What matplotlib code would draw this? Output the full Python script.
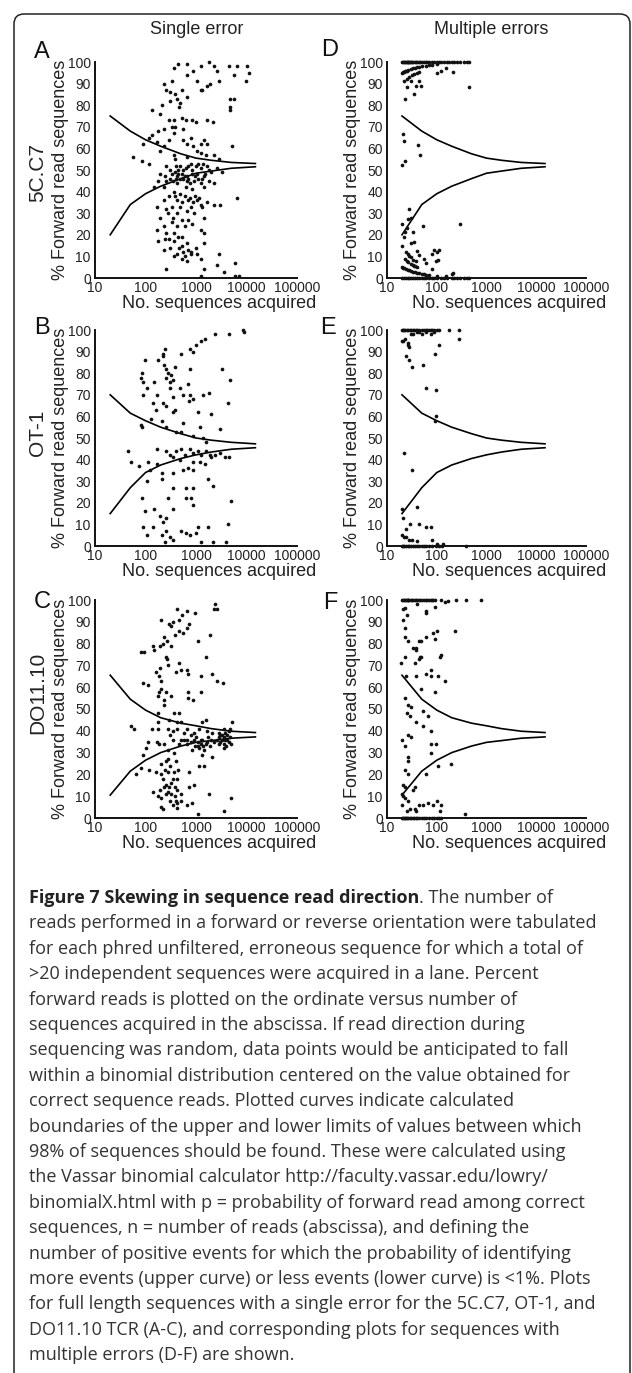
import numpy as np
import matplotlib
matplotlib.use("Agg")
import matplotlib.pyplot as plt
from matplotlib.patches import FancyBboxPatch
from matplotlib.transforms import IdentityTransform

# binomial limit curves (n reads -> % forward), one pair per TCR
curve_n = [20, 50, 100, 200, 500, 1000, 2000, 5000, 15000]
upper_5cc7 = [75, 68, 64, 61, 57.5, 55.5, 54.5, 53.5, 53]
lower_5cc7 = [20, 34, 39, 42.5, 46, 48.5, 49.5, 50.8, 51.5]
upper_ot1 = [70, 61.5, 58, 55, 52, 50, 49, 48, 47.3]
lower_ot1 = [15, 27, 34, 37.5, 40.5, 42.2, 43.5, 44.8, 45.5]
upper_do11 = [65.5, 54.5, 49.5, 46, 43.5, 42.3, 41, 39.8, 39.2]
lower_do11 = [10.5, 21.5, 26.5, 30, 33, 34.7, 35.5, 36.6, 37.2]

# (sequences acquired, % forward)
pts_a = [(360, 97), (450, 99), (660, 99), (890, 96), (1230, 98), (1780, 100), (2240, 98), (2630, 96),
         (4470, 98), (6460, 98), (10200, 98), (11200, 95), (5600, 94), (10000, 91), (230, 90), (330, 91),
         (660, 94), (1050, 91), (1320, 87), (1900, 90), (2820, 91), (260, 87), (310, 86), (390, 85),
         (420, 83), (490, 81), (460, 79), (210, 80), (310, 82), (660, 84), (1230, 87), (1660, 89),
         (4790, 83), (5600, 83), (4790, 79), (4790, 78), (135, 78), (530, 87),
         (195, 76), (290, 73), (360, 73), (525, 74), (620, 73), (830, 73), (980, 72), (390, 70),
         (230, 69), (330, 70), (560, 69), (180, 68), (135, 66), (90, 62), (115, 65), (170, 63),
         (230, 61), (290, 64), (360, 67), (560, 64), (660, 62), (780, 65), (890, 61), (1230, 62),
         (1660, 62), (1050, 59), (1410, 64), (1660, 73), (2200, 72), (5200, 61), (195, 59), (360, 57),
         (56, 56), (85, 54), (118, 53), (390, 55), (660, 56), (1230, 58), (1600, 57), (2240, 57), (2820, 55),
         (260, 52), (310, 50), (390, 49), (490, 52), (620, 51), (780, 53), (980, 52), (1230, 51),
         (1660, 52), (2630, 51), (3300, 49), (195, 48), (245, 47), (330, 48), (420, 47), (525, 48),
         (660, 47), (830, 48), (1050, 48), (1410, 47), (1780, 45), (1230, 44), (660, 45), (420, 44),
         (260, 45), (180, 45), (145, 42), (230, 42), (620, 42), (1410, 42), (2240, 44), (830, 41),
         (490, 39), (360, 40), (290, 38), (710, 36), (1050, 36), (230, 36), (520, 35), (890, 35),
         (1230, 34), (1660, 35), (2240, 34), (3020, 34), (170, 33), (260, 32), (420, 30), (660, 31),
         (1410, 28), (195, 28), (330, 26), (420, 24), (525, 27), (230, 24), (170, 22), (260, 21),
         (360, 21), (1230, 22), (1410, 21), (180, 17), (245, 18), (360, 17), (525, 19), (660, 16),
         (980, 14), (1410, 16), (230, 13), (310, 14), (460, 14), (560, 12), (780, 11), (1050, 11),
         (360, 10), (525, 9), (660, 8), (1230, 9), (2820, 11), (250, 4), (1410, 4), (2630, 6),
         (3550, 3), (1230, 1), (7080, 1), (6030, 1), (6000, 7), (6460, 37),
         (300, 46), (350, 45), (400, 46), (450, 48), (480, 46), (550, 46), (600, 47), (700, 46),
         (750, 44), (900, 45), (950, 47), (1100, 46), (1300, 46), (1500, 48), (1800, 50), (2000, 49),
         (400, 52), (450, 50), (550, 50), (700, 52), (850, 50), (1100, 53), (1400, 53), (380, 38),
         (430, 36), (600, 38), (750, 37), (950, 38), (1150, 37), (480, 33), (800, 33), (330, 33),
         (900, 30), (1300, 33), (280, 30), (700, 27), (350, 28), (600, 24), (850, 25), (290, 18),
         (440, 19), (520, 15), (700, 13), (420, 11), (600, 10), (800, 12)]

pts_b = [(8500, 100), (9100, 99), (4570, 98), (2340, 98), (1480, 96), (1260, 95), (1000, 93), (760, 91),
         (510, 89), (870, 90), (240, 91), (219, 89), (224, 88), (178, 86), (98, 86), (229, 84), (251, 82),
         (282, 80), (324, 79), (380, 83), (257, 78), (355, 77), (302, 76), (760, 82), (3240, 82), (4790, 77),
         (87, 80), (83, 78), (89, 76), (145, 76), (105, 73), (89, 70), (166, 70), (479, 73), (692, 75),
         (550, 70), (760, 70), (302, 73), (355, 69), (1380, 70), (1820, 71), (724, 67), (871, 68),
         (141, 66), (224, 66), (257, 65), (380, 63), (355, 62), (1100, 62), (2000, 61), (4270, 66),
         (158, 63), (209, 58), (126, 59), (83, 56), (87, 55), (257, 55), (550, 57), (407, 53), (513, 53),
         (1175, 55), (2950, 54), (870, 51), (1380, 50), (1585, 48),
         (46, 44), (52, 39), (74, 37), (112, 39), (166, 45), (257, 44), (302, 42), (355, 41), (407, 44),
         (513, 45), (603, 42), (760, 45), (870, 43), (1100, 44), (1260, 42), (1585, 44), (1860, 42),
         (2340, 42), (2950, 43), (3710, 41), (4570, 41), (479, 40), (870, 39), (1175, 39), (1480, 38),
         (1995, 41), (550, 35), (690, 36), (870, 35), (355, 34), (166, 38), (123, 35), (209, 34),
         (105, 30), (87, 22), (98, 16), (148, 17), (209, 31), (355, 27), (282, 22), (191, 14), (257, 13),
         (219, 11), (355, 17), (646, 27), (871, 27), (646, 22), (813, 22), (871, 19), (1740, 31),
         (2190, 28), (5010, 21), (4270, 10), (89, 9), (105, 5), (141, 9), (257, 7), (209, 5), (355, 3),
         (513, 7), (646, 6), (760, 5), (1000, 6), (1100, 9), (1740, 9), (1260, 2), (2190, 2), (3980, 2),
         (240, 2), (302, 4)]

pts_c = [(2400, 98), (2570, 96), (2240, 96), (977, 94), (676, 95), (427, 96), (537, 93), (468, 91),
         (347, 90), (204, 91), (295, 89), (316, 88), (724, 89), (661, 87), (562, 85), (468, 86), (380, 84),
         (1072, 81), (1862, 84), (1549, 74), (2089, 66), (2630, 63), (3467, 62), (1230, 65), (676, 68),
         (708, 66), (234, 83), (269, 81), (219, 80), (191, 79), (138, 79), (148, 77), (316, 79), (251, 74),
         (269, 73), (282, 70), (468, 71), (501, 68), (407, 67), (191, 69), (162, 67), (182, 65), (200, 63),
         (95, 76), (81, 76), (89, 62), (110, 61), (200, 59), (186, 58), (251, 58), (174, 56), (234, 54),
         (316, 56), (708, 58), (1230, 58), (708, 55), (871, 54),
         (229, 52), (178, 48), (372, 48), (468, 48), (427, 44), (295, 45), (501, 44), (1318, 44), (1549, 45),
         (52, 42), (60, 41), (132, 41), (174, 44), (174, 41), (275, 41), (347, 40), (427, 41), (575, 39),
         (676, 41), (912, 39), (1148, 41), (1660, 40), (2089, 39), (2818, 39), (3548, 41), (4467, 40),
         (5129, 44), (4786, 41),
         (575, 36), (676, 36), (794, 35), (912, 36), (1072, 35), (1230, 34), (1318, 36), (1549, 34),
         (977, 33), (1148, 32), (851, 31), (676, 34), (1445, 31), (1660, 35), (1950, 36), (2239, 35),
         (1318, 29), (2089, 28), (1445, 24), (1148, 24),
         (2818, 37), (3020, 35), (3311, 38), (3548, 34), (3802, 36), (4074, 38), (4467, 35), (4786, 37),
         (3548, 32), (3802, 39), (2884, 34), (5012, 34),
         (89, 29), (102, 32), (112, 35), (170, 35), (182, 34), (234, 34), (275, 31), (372, 30), (468, 34),
         (83, 23), (66, 20), (120, 22), (162, 21), (204, 25), (275, 27), (398, 26), (204, 20), (275, 21),
         (372, 21), (219, 18), (347, 18), (427, 18), (380, 14), (295, 14), (234, 14), (195, 13), (138, 12),
         (174, 10), (204, 9), (257, 11), (316, 11), (427, 13), (501, 11), (398, 8), (427, 7), (501, 8),
         (676, 6), (724, 14), (912, 15), (724, 21), (1778, 11), (851, 7), (1072, 2), (3548, 3), (4898, 9),
         (204, 5), (219, 4), (427, 4.5),
         (1000, 37), (1100, 33), (1250, 36), (1400, 33), (1700, 37), (1900, 33), (3200, 36), (3600, 37),
         (4200, 36), (3000, 38), (2600, 36), (4000, 33), (300, 38), (350, 36), (500, 36), (800, 38),
         (250, 15), (280, 12), (320, 16), (300, 8), (350, 6), (240, 22), (310, 24), (260, 26), (450, 22),
         (380, 10)]

# multiple errors: counts sitting on the 100 % and 0 % rows
top_d = [20, 21, 22, 23, 24, 25, 26, 27, 28, 29, 30, 32, 34, 36, 38, 40, 43, 46, 50, 55, 60, 65, 70,
         80, 90, 100, 110, 120, 140, 160, 180, 200, 220, 250, 300, 350, 400, 450]
zero_d = [20, 22, 24, 26, 28, 30, 33, 36, 40, 45, 50, 55, 60, 70, 80, 90, 100, 120, 140, 160, 200,
          220, 250, 300, 350, 400, 450]
pts_d = [(20, 95), (21, 95.2), (22, 95.5), (23, 95.7), (24, 95.8), (25, 96), (27, 96.3), (30, 96.7),
         (33, 97), (36, 97.2), (40, 97.5), (45, 97.8), (50, 98), (60, 98.3), (70, 98.6), (80, 98.8),
         (100, 99), (22, 91), (25, 92), (28, 92.9), (32, 93.8), (35, 94.3), (40, 95), (45, 95.6),
         (23, 83), (25, 88.5), (30, 91), (35, 85), (38, 89), (45, 91), (48, 89), (100, 95), (120, 96),
         (150, 97), (210, 95.5), (440, 88.5),
         (20, 52.5), (21, 66.5), (22, 63.5), (23, 54), (42, 61.5), (46, 57), (300, 25),
         (20, 25), (22, 19), (23, 21.5), (25, 23), (27, 27.5), (28, 32), (30, 28), (33, 21.5), (35, 16.5),
         (30, 16), (40, 12.5), (52, 24), (20, 15), (24, 12), (26, 11), (28, 10), (30, 9.5), (34, 8.5),
         (38, 8), (45, 10.5), (55, 9), (60, 7), (80, 11), (90, 13), (100, 12), (110, 13), (95, 8),
         (105, 8.5), (35, 5.5),
         (20, 5), (21, 4.8), (22, 4.5), (24, 4.2), (26, 3.8), (28, 3.6), (30, 3.3), (33, 3), (36, 2.8),
         (40, 2.5), (45, 2.2), (50, 2), (55, 1.8), (60, 1.6), (70, 1.4),
         (23, 8.7), (25, 8), (27, 7.4), (30, 6.7), (33, 6), (36, 5.6), (40, 5),
         (80, 4), (100, 1), (200, 2), (210, 2.5), (150, 1)]

top_e = [20, 21, 22, 23, 25, 27, 29, 31, 33, 35, 38, 41, 45, 50, 55, 60, 65, 70, 75, 80, 90, 100, 110,
         180, 280]
zero_e = [20, 21, 22, 24, 26, 28, 30, 33, 36, 40, 45, 50, 55, 60, 70, 80, 95, 110, 130, 390]
pts_e = [(20, 95), (21, 95), (23, 96), (26, 94), (27, 93), (30, 98), (33, 98), (40, 99), (45, 99),
         (50, 98), (60, 99), (75, 98), (90, 99), (110, 93), (280, 96), (28, 92), (24, 88), (28, 86),
         (32, 83), (53, 84), (94, 89), (60, 73), (96, 72), (96, 60), (92, 58), (22, 43), (32, 35),
         (40, 18), (20, 17), (21, 13), (24, 8), (29, 10), (44, 10), (62, 9), (78, 9), (82, 3), (103, 1),
         (134, 1), (20, 5), (22, 4), (24, 4), (28, 3), (32, 3), (40, 2.5)]

top_f = [20, 21, 22, 23, 24, 25, 26, 27, 28, 30, 32, 34, 36, 38, 40, 43, 46, 50, 55, 60, 65, 70, 75,
         80, 85, 91, 124, 245, 389, 776]
zero_f = [20, 21, 22, 23, 24, 25, 27, 29, 31, 33, 35, 38, 41, 45, 50, 55, 60, 70, 80, 90, 100, 110, 120]
pts_f = [(170, 99.5), (145, 99), (41, 98), (21, 96), (23, 96.5), (62, 95), (62, 94), (91, 97), (25, 93),
         (21, 91), (23, 87), (23, 83), (27, 81), (43, 81), (48, 81), (62, 83), (85, 85), (100, 86),
         (229, 86), (91, 82), (34, 78), (39, 78), (38, 77), (46, 74), (49, 74), (43, 73), (36, 71),
         (19, 71), (23, 74), (123, 75), (115, 74), (78, 68), (78, 65), (60, 66), (39, 65), (107, 65),
         (145, 63), (91, 58), (49, 59), (24, 65), (23, 55), (27, 52), (31, 51), (25, 48), (29, 47),
         (39, 44), (54, 49), (68, 47), (54, 42), (78, 40), (27, 38), (31, 37), (20, 36), (23, 33),
         (78, 34), (27, 28), (26, 26), (23, 22), (27, 20), (62, 20), (78, 30), (98, 34), (107, 24),
         (195, 25), (21, 15), (23, 14), (20, 11), (21, 10), (23, 9), (27, 8), (34, 13), (36, 14), (20, 6),
         (25, 3), (29, 4), (36, 4), (45, 6), (54, 6), (68, 7), (85, 6), (100, 8), (120, 6), (115, 3),
         (39, 3), (363, 2)]

x_ticks = [10, 100, 1000, 10000, 100000]
x_ticklabels = ['10', '100', '1000', '10000', '100000']
y_ticks = list(range(0, 101, 10))

caption_lines = [
    "reads performed in a forward or reverse orientation were tabulated",
    "for each phred unfiltered, erroneous sequence for which a total of",
    ">20 independent sequences were acquired in a lane. Percent",
    "forward reads is plotted on the ordinate versus number of",
    "sequences acquired in the abscissa. If read direction during",
    "sequencing was random, data points would be anticipated to fall",
    "within a binomial distribution centered on the value obtained for",
    "correct sequence reads. Plotted curves indicate calculated",
    "boundaries of the upper and lower limits of values between which",
    "98% of sequences should be found. These were calculated using",
    "the Vassar binomial calculator http://faculty.vassar.edu/lowry/",
    "binomialX.html with p = probability of forward read among correct",
    "sequences, n = number of reads (abscissa), and defining the",
    "number of positive events for which the probability of identifying",
    "more events (upper curve) or less events (lower curve) is <1%. Plots",
    "for full length sequences with a single error for the 5C.C7, OT-1, and",
    "DO11.10 TCR (A-C), and corresponding plots for sequences with",
    "multiple errors (D-F) are shown.",
]

plt.rcParams['font.family'] = ['Liberation Sans', 'DejaVu Sans']

W, H = 632, 1373
fig = plt.figure(figsize=(W / 100, H / 100), dpi=100)


def px_axes(x0, y0, x1, y1):
    # pixel box (from top-left) -> figure axes
    return fig.add_axes([x0 / W, 1 - y1 / H, (x1 - x0) / W, (y1 - y0) / H])


def draw_panel(ax, upper, lower, pts, top=(), zero=()):
    ax.plot(curve_n, upper, color='black', lw=1.2)
    ax.plot(curve_n, lower, color='black', lw=1.2)
    xs = [p[0] for p in pts] + list(top) + list(zero)
    ys = [p[1] for p in pts] + [100] * len(top) + [0] * len(zero)
    ax.scatter(xs, ys, s=7, color='#111111', lw=0, clip_on=False, zorder=3)
    ax.set_xscale('log')
    ax.set_xlim(10, 100000)
    ax.set_ylim(0, 100)
    ax.set_xticks(x_ticks)
    ax.set_xticklabels(x_ticklabels)
    ax.xaxis.set_minor_locator(matplotlib.ticker.NullLocator())
    ax.set_yticks(y_ticks)
    ax.tick_params(length=0, labelsize=10, colors='#222222')
    ax.tick_params(axis='x', pad=2)
    ax.tick_params(axis='y', pad=3)
    for s in ('top', 'right'):
        ax.spines[s].set_visible(False)
    for s in ('left', 'bottom'):
        ax.spines[s].set_linewidth(1.4)
        ax.spines[s].set_color('#111111')
    ax.set_ylabel('% Forward read sequences', fontsize=13, color='#222222')
    ax.yaxis.set_label_coords(-26 / ax.get_position().width / W, 0.5)
    ax.set_xlabel('No. sequences acquired', fontsize=13, color='#222222')
    ax.xaxis.set_label_coords(0.615, -0.08)


rows = [(62, 278), (330, 546), (600, 818)]
left_cols = (95, 297)
right_cols = (387, 586)

ax_a = px_axes(left_cols[0], rows[0][0], left_cols[1], rows[0][1])
ax_d = px_axes(right_cols[0], rows[0][0], right_cols[1], rows[0][1])
ax_b = px_axes(left_cols[0], rows[1][0], left_cols[1], rows[1][1])
ax_e = px_axes(right_cols[0], rows[1][0], right_cols[1], rows[1][1])
ax_c = px_axes(left_cols[0], rows[2][0], left_cols[1], rows[2][1])
ax_f = px_axes(right_cols[0], rows[2][0], right_cols[1], rows[2][1])

draw_panel(ax_a, upper_5cc7, lower_5cc7, pts_a)
draw_panel(ax_d, upper_5cc7, lower_5cc7, pts_d, top_d, zero_d)
draw_panel(ax_b, upper_ot1, lower_ot1, pts_b)
draw_panel(ax_e, upper_ot1, lower_ot1, pts_e, top_e, zero_e)
draw_panel(ax_c, upper_do11, lower_do11, pts_c)
draw_panel(ax_f, upper_do11, lower_do11, pts_f, top_f, zero_f)

# column titles, panel letters, row labels
fig.text(197 / W, 1 - 30 / H, 'Single error', fontsize=13, ha='center', va='center', color='#222222')
fig.text(491 / W, 1 - 30 / H, 'Multiple errors', fontsize=13, ha='center', va='center', color='#222222')
for lab, (x, y) in zip('ABCDEF', [(42, 52), (42, 328), (42, 602), (330, 50), (328, 328), (330, 603)]):
    fig.text(x / W, 1 - y / H, lab, fontsize=17, ha='center', va='center', color='#111111')
for lab, y in zip(['5C.C7', 'OT-1', 'DO11.10'], [173, 433, 693]):
    fig.text(38 / W, 1 - y / H, lab, fontsize=15, rotation=90, ha='center', va='center', color='#222222')

# caption
cap_font = ['Open Sans', 'DejaVu Sans']
cap_size = 13
cap_x = 29 / W
line_y0 = 898
line_step = 25.4
bold = fig.text(cap_x, 1 - line_y0 / H, 'Figure 7 Skewing in sequence read direction', family=cap_font,
                fontsize=cap_size, fontweight='bold', ha='left', va='center', color='#222222')
fig.canvas.draw()
bb = bold.get_window_extent()
fig.text(bb.x1 / W, 1 - line_y0 / H, '. The number of', family=cap_font, fontsize=cap_size,
         ha='left', va='center', color='#333333')
for i, line in enumerate(caption_lines, start=1):
    fig.text(cap_x, 1 - (line_y0 + i * line_step) / H, line, family=cap_font, fontsize=cap_size,
             ha='left', va='center', color='#333333')

# frame around the figure, open at the bottom
frame = FancyBboxPatch((14, -30), 616, H - 14 + 30, boxstyle='round,pad=0,rounding_size=10',
                       transform=IdentityTransform(), fill=False, lw=1.1, ec='#222222')
fig.patches.append(frame)

fig.savefig('out.png', dpi=100)
